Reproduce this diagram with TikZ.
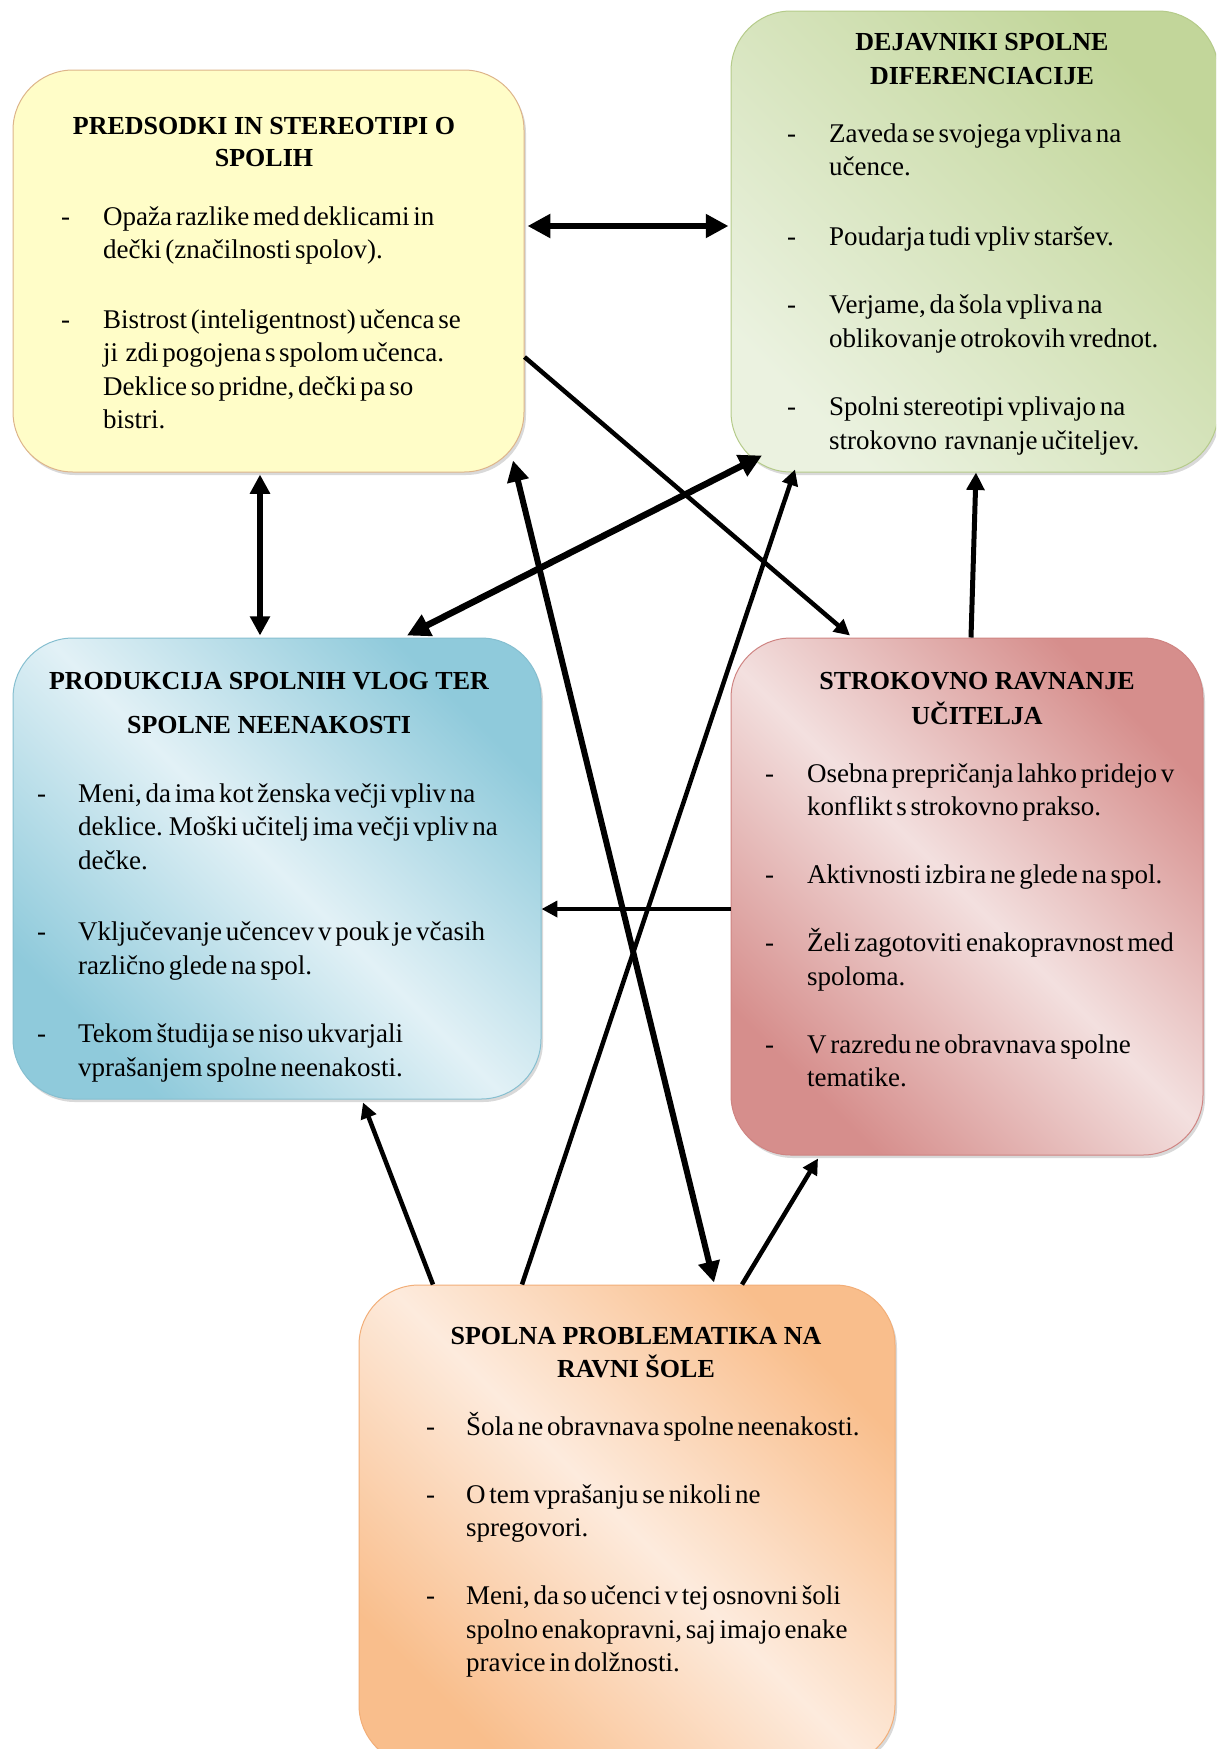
\documentclass[tikz,border=0pt]{standalone}
\usepackage{fontspec}
\setmainfont{Liberation Serif}
\newfontfamily\bodyfont{Liberation Serif}[WordSpace=0.55]
\usetikzlibrary{calc,arrows.meta,shadows}
\definecolor{yelf}{HTML}{FFFDC8}
\definecolor{yelb}{HTML}{DDB48A}
\definecolor{grnd}{HTML}{C2D69A}
\definecolor{grnl}{HTML}{EBF2E0}
\definecolor{grnb}{HTML}{B5CB8A}
\definecolor{blud}{HTML}{8FCADB}
\definecolor{blul}{HTML}{E2F1F6}
\definecolor{blub}{HTML}{86BFD0}
\definecolor{redd}{HTML}{D68E8C}
\definecolor{redl}{HTML}{F3E0DF}
\definecolor{redb}{HTML}{CF8482}
\definecolor{orgd}{HTML}{F9BE8C}
\definecolor{orgl}{HTML}{FDEBDD}
\definecolor{orgb}{HTML}{F2AE78}
\pgfdeclareverticalshading{blush}{100bp}{color(0bp)=(blud); color(25bp)=(blud); color(50bp)=(blul); color(75bp)=(blud); color(100bp)=(blud)}
\pgfdeclareverticalshading{redsh}{100bp}{color(0bp)=(redd); color(25bp)=(redd); color(50bp)=(redl); color(75bp)=(redd); color(100bp)=(redd)}
\pgfdeclareverticalshading{orgsh}{100bp}{color(0bp)=(orgd); color(25bp)=(orgd); color(50bp)=(orgl); color(75bp)=(orgd); color(100bp)=(orgd)}
\tikzset{
  box/.style={rectangle, rounded corners=60pt, inner sep=0pt, line width=1pt,
    drop shadow={shadow xshift=2pt, shadow yshift=-3pt, opacity=0.3}},
  ttl/.style={anchor=base, inner sep=0pt, font=\bfseries\fontsize{26}{32}\selectfont},
  txt/.style={anchor=base west, inner sep=0pt, font=\bodyfont\fontsize{27}{33.5}\selectfont},
  conn/.style={line width=#1, -{Triangle[length=3.5*#1, width=3.5*#1]}},
  conn2/.style={line width=#1, {Triangle[length=3.5*#1, width=3.5*#1]}-{Triangle[length=3.5*#1, width=3.5*#1]}}
}
\begin{document}
\begin{tikzpicture}[x=1pt, y=-1pt]
\useasboundingbox (0,0) rectangle (1216,1749);
\clip (0,0) rectangle (1216,1749);
% boxes
\node[box, draw=yelb, fill=yelf, minimum width=511pt, minimum height=402pt] (yel) at (268.5,271) {};
\node[box, draw=grnb, top color=grnd, bottom color=grnl, shading angle=-45, minimum width=487pt, minimum height=461pt] (grn) at (974.5,241.5) {};
\node[box, draw=blub, shading=blush, shading angle=-45, minimum width=528pt, minimum height=461pt] (blu) at (277,868.5) {};
\node[box, draw=redb, shading=redsh, shading angle=-45, minimum width=472pt, minimum height=517pt] (red) at (967,896.5) {};
\node[box, draw=orgb, shading=orgsh, shading angle=-45, minimum width=536pt, minimum height=480pt] (org) at (627,1525) {};
% titles
\node[ttl] (yelT) at (264,134) {\begin{tabular}[t]{@{}c@{}}PREDSODKI IN STEREOTIPI O\\[0pt] SPOLIH\end{tabular}};
\node[ttl] (grnT) at (982,50) {\begin{tabular}[t]{@{}c@{}}DEJAVNIKI SPOLNE\\[2pt] DIFERENCIACIJE\end{tabular}};
\node[ttl] (bluT) at (269,689) {\begin{tabular}[t]{@{}c@{}}PRODUKCIJA SPOLNIH VLOG TER\\[12pt] SPOLNE NEENAKOSTI\end{tabular}};
\node[ttl] (redT) at (977,689) {\begin{tabular}[t]{@{}c@{}}STROKOVNO RAVNANJE\\[3pt] UČITELJA\end{tabular}};
\node[ttl] (orgT) at (636,1344) {\begin{tabular}[t]{@{}c@{}}SPOLNA PROBLEMATIKA NA\\[1pt] RAVNI ŠOLE\end{tabular}};
% bullet texts
\node[txt] (yelB) at (61,225) {\begin{tabular}[t]{@{}p{42pt}@{}l@{}}
-&Opaža razlike med deklicami in\\
&dečki (značilnosti spolov).\\[36pt]
-&Bistrost (inteligentnost) učenca se\\
&ji\ \ zdi pogojena s spolom učenca.\\
&Deklice so pridne, dečki pa so\\
&bistri.\end{tabular}};
\node[txt] (grnB) at (787,142) {\begin{tabular}[t]{@{}p{42pt}@{}l@{}}
-&Zaveda se svojega vpliva na\\
&učence.\\[36pt]
-&Poudarja tudi vpliv staršev.\\[35pt]
-&Verjame, da šola vpliva na\\
&oblikovanje otrokovih vrednot.\\[35pt]
-&Spolni stereotipi vplivajo na\\
&strokovno\ \ ravnanje učiteljev.\end{tabular}};
\node[txt] (bluB) at (37,802) {\begin{tabular}[t]{@{}p{41pt}@{}l@{}}
-&Meni, da ima kot ženska večji vpliv na\\
&deklice. Moški učitelj ima večji vpliv na\\
&dečke.\\[38pt]
-&Vključevanje učencev v pouk je včasih\\
&različno glede na spol.\\[35pt]
-&Tekom študija se niso ukvarjali\\
&vprašanjem spolne neenakosti.\end{tabular}};
\node[txt] (redB) at (765,782) {\begin{tabular}[t]{@{}p{42pt}@{}l@{}}
-&Osebna prepričanja lahko pridejo v\\
&konflikt s strokovno prakso.\\[34.5pt]
-&Aktivnosti izbira ne glede na spol.\\[34.5pt]
-&Želi zagotoviti enakopravnost med\\
&spoloma.\\[34.5pt]
-&V razredu ne obravnava spolne\\
&tematike.\end{tabular}};
\node[txt] (orgB) at (426,1435) {\begin{tabular}[t]{@{}p{40pt}@{}l@{}}
-&Šola ne obravnava spolne neenakosti.\\[34.5pt]
-&O tem vprašanju se nikoli ne\\
&spregovori.\\[34.5pt]
-&Meni, da so učenci v tej osnovni šoli\\
&spolno enakopravni, saj imajo enake\\
&pravice in dolžnosti.\end{tabular}};
% connectors
\draw[conn2=6.5pt] ($(yel.east)+(3,-45)$) -- ($(grn.west)+(-2,-15.5)$);
\draw[conn2=5.5pt] ($(yel.south)+(-8.5,2)$) -- ($(blu.north)+(-17,-2)$);
\draw[conn=4.5pt] ($(yel.east)+(0,86)$) -- ($(red.north)+(-117,-2)$);
\draw[conn2=6.5pt] ($(grn.south)+(-212.5,-17)$) -- ($(blu.north)+(130,-2)$);
\draw[conn2=6pt] ($(yel.south)+(244.5,-12)$) -- ($(org.north)+(87,-2)$);
\draw[conn=4.5pt] ($(org.north)+(-105,0)$) -- ($(grn.south)+(-179.5,-3)$);
\draw[conn=5pt] ($(red.north)+(4,0)$) -- ($(grn.south)+(1.5,0)$);
\draw[conn=4.5pt] ($(red.west)+(0,12.5)$) -- ($(blu.east)+(0,40.5)$);
\draw[conn=4.5pt] ($(org.north)+(-194,0)$) -- ($(blu.south)+(86,3)$);
\draw[conn=4.5pt] ($(org.north)+(115,0)$) -- ($(red.south)+(-149,3)$);
\end{tikzpicture}
\end{document}
